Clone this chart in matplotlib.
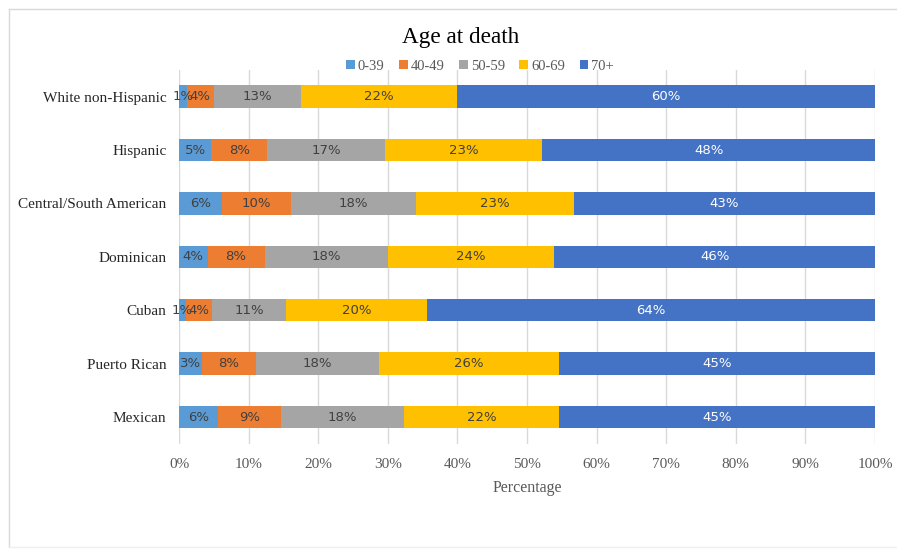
import matplotlib
matplotlib.use("Agg")
import matplotlib.pyplot as plt
from matplotlib.lines import Line2D
import numpy as np

categories = ["White non-Hispanic", "Hispanic", "Central/South American", "Dominican",
              "Cuban", "Puerto Rican", "Mexican"]
series_names = ["0-39", "40-49", "50-59", "60-69", "70+"]
v_0_39 = [1.1, 4.6, 6.2, 4.1, 1.0, 3.3, 5.6]
v_40_49 = [3.9, 8.1, 9.9, 8.2, 3.8, 7.7, 9.1]
v_50_59 = [12.6, 16.9, 18.0, 17.7, 10.6, 17.8, 17.6]
v_60_69 = [22.3, 22.6, 22.6, 23.9, 20.2, 25.8, 22.3]
v_70p = [60.1, 47.8, 43.3, 46.1, 64.4, 45.4, 45.4]
tick_vals = [0, 10, 20, 30, 40, 50, 60, 70, 80, 90, 100]

colors = ["#5B9BD5", "#ED7D31", "#A5A5A5", "#FFC000", "#4472C4"]
label_colors = ["#404040", "#404040", "#404040", "#404040", "white"]
serif = "Liberation Serif"
sans = "DejaVu Sans"

fig = plt.figure(figsize=(8.97, 5.5), dpi=100)
ax = fig.add_axes([179/897, 1-443.7/550, (875-179)/897, (443.7-70)/550])

y = np.arange(len(categories))
series = [v_0_39, v_40_49, v_50_59, v_60_69, v_70p]
left = np.zeros(len(categories))
for name, vals, c, lc in zip(series_names, series, colors, label_colors):
    vals = np.array(vals)
    ax.barh(y, vals, left=left, height=0.42, color=c, label=name, zorder=3)
    for yi, l, v in zip(y, left, vals):
        ax.text(l + v/2, yi, f"{v:.0f}%", ha="center", va="center",
                fontsize=9.5, color=lc, family=sans, zorder=4)
    left = left + vals

ax.set_ylim(len(categories) - 0.5, -0.5)
ax.set_xlim(0, 100)
ax.set_yticks(y)
ax.set_yticklabels(categories, fontsize=11, family=serif, color="#262626")
ax.set_xticks(tick_vals)
ax.set_xticklabels([f"{t}%" for t in tick_vals], fontsize=11, family=serif, color="#595959")
ax.tick_params(axis="y", length=0, pad=9)
ax.tick_params(axis="x", length=0, pad=10)
for s in ax.spines.values():
    s.set_visible(False)
ax.grid(axis="x", color="#D9D9D9", linewidth=1, zorder=0)
ax.set_axisbelow(True)
ax.set_xlabel("Percentage", fontsize=11.5, family=serif, color="#595959", labelpad=7)

fig.text((402+519)/2/897, 1-37/550, "Age at death", ha="center", va="center",
         fontsize=16.7, family=serif, color="#000000")
leg = fig.legend(loc="center", bbox_to_anchor=(480/897, 1-66/550), ncol=5, frameon=False,
                 prop={"family": serif, "size": 10.5}, handlelength=0.6, handleheight=0.6,
                 handletextpad=0.2, columnspacing=1.0, labelcolor="#595959")

fig.add_artist(Line2D([9/897, 1], [1-9/550, 1-9/550], color="#D9D9D9", lw=1))
fig.add_artist(Line2D([9/897, 9/897], [1-9/550, 1-547/550], color="#D9D9D9", lw=1))
fig.add_artist(Line2D([9/897, 1], [1-547/550, 1-547/550], color="#EFEFEF", lw=1))

fig.savefig("out.png", dpi=100)
